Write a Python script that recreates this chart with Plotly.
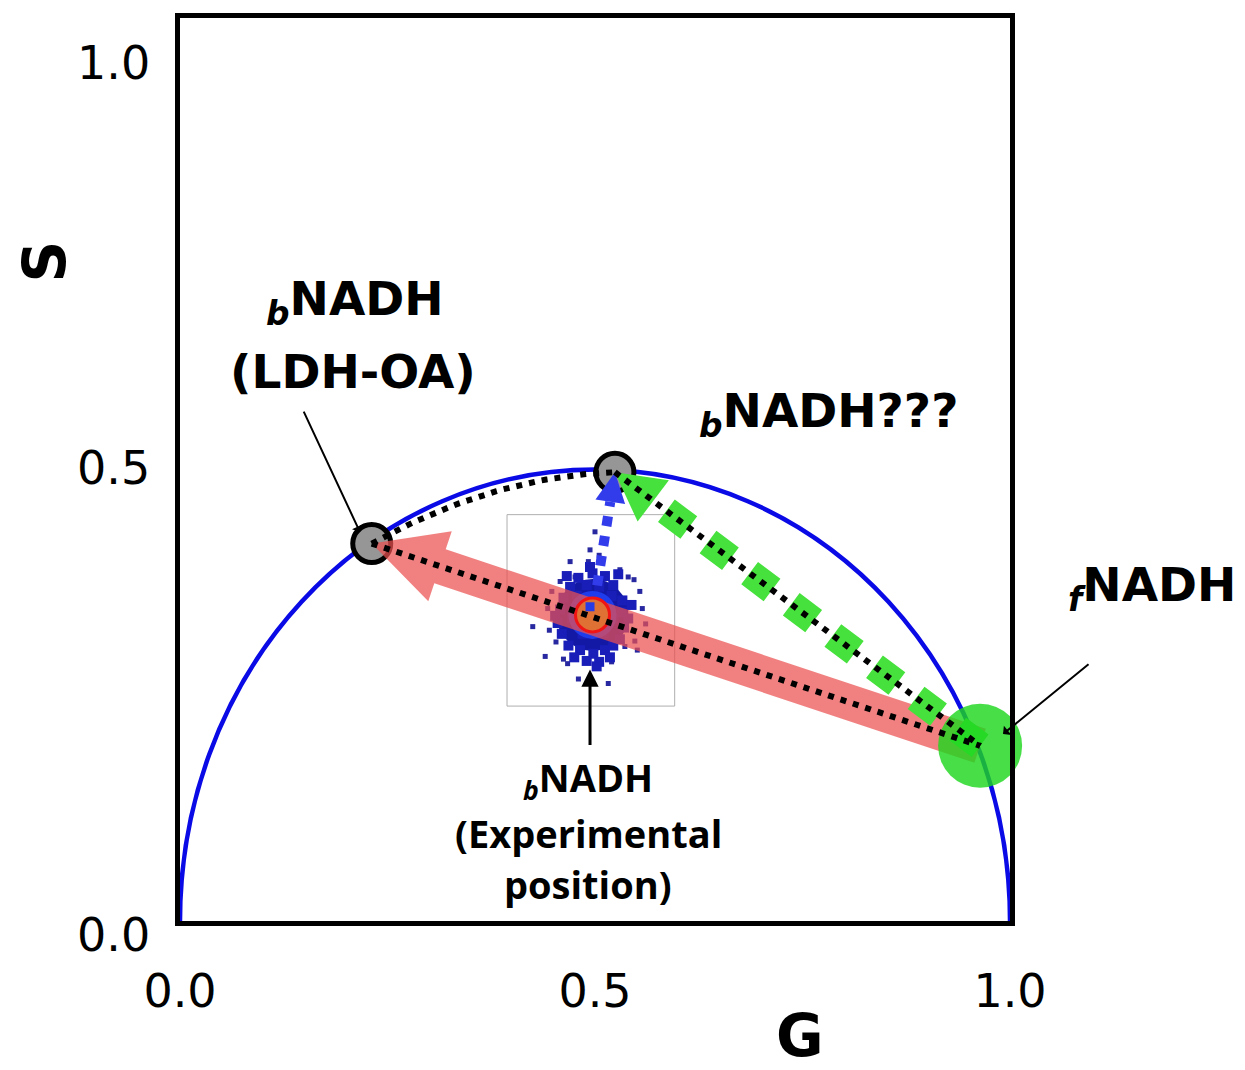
import numpy as np
import plotly.graph_objects as go

# ---------------- data ----------------
POINT_NAMES = ["bNADH (LDH-OA)", "bNADH???", "fNADH"]
POINT_G = [0.231, 0.524, 0.964]
POINT_S = [0.418, 0.497, 0.194]

EXP_G = 0.497
EXP_S = 0.339

CLOUD_CORE_G = [0.497, 0.480, 0.512, 0.470, 0.490, 0.505, 0.522, 0.462, 0.478, 0.520,
                0.533, 0.458, 0.532, 0.540, 0.455, 0.535, 0.460, 0.530, 0.468, 0.482,
                0.498, 0.512, 0.522, 0.475, 0.490, 0.505, 0.518, 0.485, 0.510, 0.472,
                0.522, 0.486, 0.510, 0.466, 0.528, 0.494, 0.502, 0.452, 0.544]
CLOUD_CORE_S = [0.385, 0.380, 0.382, 0.370, 0.372, 0.370, 0.372, 0.358, 0.360, 0.360,
                0.355, 0.345, 0.342, 0.335, 0.330, 0.325, 0.318, 0.312, 0.305, 0.300,
                0.296, 0.300, 0.305, 0.292, 0.288, 0.287, 0.292, 0.318, 0.318, 0.335,
                0.335, 0.352, 0.352, 0.382, 0.384, 0.392, 0.282, 0.338, 0.350]

CLOUD_OUT_G = [0.425, 0.440, 0.467, 0.480, 0.516, 0.500, 0.494, 0.492, 0.554, 0.557,
               0.561, 0.540, 0.530, 0.448, 0.443, 0.453, 0.536, 0.520, 0.476, 0.458,
               0.548, 0.470, 0.547, 0.462, 0.505, 0.445, 0.551]
CLOUD_OUT_S = [0.326, 0.293, 0.285, 0.268, 0.263, 0.431, 0.411, 0.398, 0.365, 0.346,
               0.329, 0.381, 0.389, 0.365, 0.346, 0.309, 0.304, 0.287, 0.381, 0.376,
               0.310, 0.398, 0.378, 0.290, 0.405, 0.322, 0.300]

X_TICKS = [0.0, 0.5, 1.0]
X_TICK_TEXT = ["0.0", "0.5", "1.0"]
Y_TICK_TEXT = ["1.0", "0.5", "0.0"]

# ---------------- geometry helpers ----------------
PX = 830.0   # pixels per G unit
PY = 908.0   # pixels per S unit


def arrow_poly(g0, s0, g1, s1, shaft_w, head_w, head_l):
    X0, Y0, X1, Y1 = g0 * PX, s0 * PY, g1 * PX, s1 * PY
    dx, dy = X1 - X0, Y1 - Y0
    L = np.hypot(dx, dy)
    ux, uy = dx / L, dy / L
    nx, ny = -uy, ux
    bx, by = X1 - ux * head_l, Y1 - uy * head_l
    pts = [
        (X0 + nx * shaft_w / 2, Y0 + ny * shaft_w / 2),
        (bx + nx * shaft_w / 2, by + ny * shaft_w / 2),
        (bx + nx * head_w / 2, by + ny * head_w / 2),
        (X1, Y1),
        (bx - nx * head_w / 2, by - ny * head_w / 2),
        (bx - nx * shaft_w / 2, by - ny * shaft_w / 2),
        (X0 - nx * shaft_w / 2, Y0 - ny * shaft_w / 2),
    ]
    pts.append(pts[0])
    return [p[0] / PX for p in pts], [p[1] / PY for p in pts]


def head_poly(g0, s0, g1, s1, head_w, head_l):
    X0, Y0, X1, Y1 = g0 * PX, s0 * PY, g1 * PX, s1 * PY
    dx, dy = X1 - X0, Y1 - Y0
    L = np.hypot(dx, dy)
    ux, uy = dx / L, dy / L
    nx, ny = -uy, ux
    bx, by = X1 - ux * head_l, Y1 - uy * head_l
    pts = [(bx + nx * head_w / 2, by + ny * head_w / 2), (X1, Y1),
           (bx - nx * head_w / 2, by - ny * head_w / 2)]
    pts.append(pts[0])
    return [p[0] / PX for p in pts], [p[1] / PY for p in pts], (bx / PX, by / PY)


def toward(g0, s0, g1, s1, px):
    X0, Y0, X1, Y1 = g0 * PX, s0 * PY, g1 * PX, s1 * PY
    dx, dy = X1 - X0, Y1 - Y0
    L = np.hypot(dx, dy)
    return (X0 + dx / L * px) / PX, (Y0 + dy / L * px) / PY


gL, sL = POINT_G[0], POINT_S[0]
gQ, sQ = POINT_G[1], POINT_S[1]
gF, sF = POINT_G[2], POINT_S[2]

fig = go.Figure()
NOHOV = dict(showlegend=False, hoverinfo="skip")

# experimental cloud
fig.add_trace(go.Scatter(x=CLOUD_OUT_G, y=CLOUD_OUT_S, mode="markers",
                         marker=dict(symbol="square", size=5, color="rgb(40,40,160)"), **NOHOV))
fig.add_trace(go.Scatter(x=[EXP_G], y=[EXP_S], mode="markers",
                         marker=dict(symbol="circle", size=72, color="rgb(20,25,165)"), **NOHOV))
fig.add_trace(go.Scatter(x=CLOUD_CORE_G, y=CLOUD_CORE_S, mode="markers",
                         marker=dict(symbol="square", size=10, color="rgb(25,30,185)"), **NOHOV))
fig.add_trace(go.Scatter(x=[EXP_G], y=[EXP_S], mode="markers",
                         marker=dict(symbol="circle", size=48, color="rgb(30,60,235)"), **NOHOV))

# gray reference points
fig.add_trace(go.Scatter(x=POINT_G[:2], y=POINT_S[:2], mode="markers",
                         marker=dict(size=38, color="rgb(150,150,150)",
                                     line=dict(color="black", width=5)), **NOHOV))

# red arrow fNADH -> LDH-OA
rx, ry = arrow_poly(gF, sF, gL, sL, 36, 74, 72)
fig.add_trace(go.Scatter(x=rx, y=ry, mode="lines", fill="toself",
                         fillcolor="rgba(235,80,80,0.72)", line=dict(width=0), **NOHOV))

# experimental centre (orange with red rim)
fig.add_trace(go.Scatter(x=[EXP_G], y=[EXP_S], mode="markers",
                         marker=dict(symbol="circle", size=34, color="rgba(230,120,40,0.85)",
                                     line=dict(color="rgb(240,20,20)", width=3)), **NOHOV))
fig.add_trace(go.Scatter(x=[EXP_G - 0.003], y=[EXP_S + 0.009], mode="markers",
                         marker=dict(symbol="square", size=9, color="rgb(40,60,230)"), **NOHOV))

# blue dotted arrow experimental -> bNADH???
bhx, bhy, bbase = head_poly(EXP_G, EXP_S, gQ, sQ, 30, 30)
bstart = toward(EXP_G, EXP_S, gQ, sQ, 30)
fig.add_trace(go.Scatter(x=[bstart[0], bbase[0]], y=[bstart[1], bbase[1]], mode="lines",
                         line=dict(color="rgb(50,60,235)", width=10, dash="10px,10px"), **NOHOV))
fig.add_trace(go.Scatter(x=bhx, y=bhy, mode="lines", fill="toself",
                         fillcolor="rgb(50,60,235)", line=dict(width=0), **NOHOV))

# green dashed arrow fNADH -> bNADH???
ghx, ghy, gbase = head_poly(gF, sF, gQ, sQ, 52, 48)
fig.add_trace(go.Scatter(x=[gF, gbase[0]], y=[sF, gbase[1]], mode="lines",
                         line=dict(color="rgb(70,225,60)", width=28, dash="28px,24px"), **NOHOV))
fig.add_trace(go.Scatter(x=ghx, y=ghy, mode="lines", fill="toself",
                         fillcolor="rgb(70,225,60)", line=dict(width=0), **NOHOV))

# green fNADH point
fig.add_trace(go.Scatter(x=[gF], y=[sF], mode="markers", cliponaxis=False,
                         marker=dict(size=84, color="rgba(30,215,30,0.82)"), **NOHOV))

# black dotted connection lines
dot = dict(color="black", width=6, dash="6px,7px")
fig.add_trace(go.Scatter(x=[gL, gF], y=[sL, sF], mode="lines", line=dot, **NOHOV))
fig.add_trace(go.Scatter(x=[gQ, gF], y=[sQ, sF], mode="lines", line=dot, **NOHOV))
t = np.linspace(0, 1, 40)
mg, ms = (gL + gQ) / 2, (sL + sQ) / 2 + 0.035
cg = (1 - t) ** 2 * gL + 2 * (1 - t) * t * mg + t ** 2 * gQ
cs = (1 - t) ** 2 * sL + 2 * (1 - t) * t * ms + t ** 2 * sQ
fig.add_trace(go.Scatter(x=cg, y=cs, mode="lines", line=dot, **NOHOV))

# shapes: universal semicircle + inset box
fig.add_shape(type="circle", xref="x", yref="y", x0=0, x1=1, y0=-0.5, y1=0.5,
              line=dict(color="rgb(10,10,230)", width=4.5), layer="below")
fig.add_shape(type="rect", xref="x", yref="y", x0=0.394, x1=0.596, y0=0.238, y1=0.450,
              line=dict(color="rgb(175,175,175)", width=1), layer="below")

# text labels
BIG = dict(family="DejaVu Sans", size=47, color="black")
MID = dict(family="Open Sans", size=38, color="black")


def label(x, y, text, font, xanchor="center", **kw):
    d = dict(x=x, y=y, xref="paper", yref="paper", showarrow=False, text=text,
             font=font, xanchor=xanchor, yanchor="middle")
    d.update(kw)
    return d


ann = [
    label(0.211, 0.685, "<b><sub><i>b</i></sub>NADH</b>", BIG),
    label(0.209, 0.609, "<b>(LDH-OA)</b>", BIG),
    label(0.781, 0.562, "<b><sub><i>b</i></sub>NADH???</b>", BIG),
    label(1.0675, 0.369, "<b><sub><i>f</i></sub>NADH</b>", BIG, xanchor="left"),
    label(0.4916, 0.157, "<b><sub><i>b</i></sub>NADH</b>", MID),
    label(0.4916, 0.098, "<b>(Experimental</b>", MID),
    label(0.4916, 0.041, "<b>position)</b>", MID),
]

# pointer arrows
ann.append(dict(x=0.2169, y=0.4306, xref="x", yref="y", ax=-57, ay=-122, text="",
                showarrow=True, arrowhead=1, arrowsize=1, arrowwidth=2, arrowcolor="black"))
ann.append(dict(x=0.9916, y=0.2070, xref="x", yref="y", ax=87, ay=-71, text="",
                showarrow=True, arrowhead=1, arrowsize=1, arrowwidth=2, arrowcolor="black"))
ann.append(dict(x=EXP_G - 0.003, y=0.2786, xref="x", yref="y", ax=0, ay=77, text="",
                showarrow=True, arrowhead=2, arrowsize=1.15, arrowwidth=3, arrowcolor="black"))

# y tick labels and axis titles
TICKF = dict(family="DejaVu Sans", size=46, color="black")
for txt, yy in zip(Y_TICK_TEXT, [0.950, 0.502, -0.0154]):
    ann.append(label(0, yy, txt, TICKF, xanchor="right", xshift=-28))
TITLEF = dict(family="DejaVu Sans", size=58, color="black")
ann.append(label(-0.163, 0.730, "<b>S</b>", TITLEF, textangle=-90))
ann.append(label(0.747, -0.127, "<b>G</b>", TITLEF))

fig.update_layout(
    width=1245, height=1070,
    margin=dict(l=172, r=243, t=5, b=157),
    paper_bgcolor="white", plot_bgcolor="white",
    annotations=ann,
    showlegend=False,
)
fig.update_xaxes(range=[0, 1], showgrid=False, zeroline=False, showline=True,
                 linecolor="black", linewidth=5, mirror=True, ticks="",
                 tickvals=X_TICKS, ticktext=X_TICK_TEXT, tickfont=TICKF,
                 ticklabelstandoff=26)
fig.update_yaxes(range=[0, 1], showgrid=False, zeroline=False, showline=True,
                 linecolor="black", linewidth=5, mirror=True, ticks="",
                 showticklabels=False)

fig.write_html("out.html")
